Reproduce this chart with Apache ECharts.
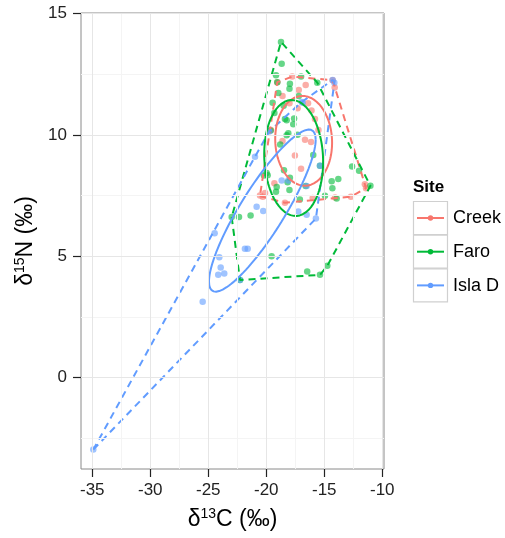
<!DOCTYPE html>
<html><head><meta charset="utf-8">
<script src="https://cdn.jsdelivr.net/npm/echarts@6/dist/echarts.min.js"></script>
<style>html,body{margin:0;padding:0;background:#fff}#c{width:505px;height:538px}</style>
</head><body><div id="c"></div>
<script>
const sites = ['Creek', 'Faro', 'Isla D'];
const colors = ['#F8766D', '#00BA38', '#619CFF'];
const creek = [[-19.05,12.17],[-17.76,12.4],[-14.28,12.25],[-14.1,11.95],[-18.6,11.6],[-16.4,11.3],[-16.1,11.0],[-15.8,10.65],[-17.3,11.1],[-19.6,10.2],[-18.6,9.75],[-16.66,9.8],[-16.14,9.7],[-17.53,9.15],[-20.54,7.5],[-20.3,7.45],[-20.1,7.6],[-18.39,7.2],[-16.0,7.4],[-14.07,7.42],[-12.7,7.45],[-11.5,7.96],[-11.4,7.8],[-15.5,10.2],[-18.0,11.3],[-19.3,8.0],[-17.0,8.6],[-17.2,11.85],[-16.6,12.05]];
const faro = [[-18.73,13.83],[-18.67,12.93],[-19.16,12.46],[-19.05,12.17],[-17.96,12.1],[-15.6,12.15],[-18.96,11.72],[-19.45,11.32],[-17.6,10.67],[-18.39,10.65],[-18.24,10.6],[-17.67,10.44],[-18.1,10.07],[-19.62,10.18],[-18.24,9.98],[-15.95,9.17],[-18.47,8.54],[-17.96,8.23],[-18.16,8.05],[-19.97,8.43],[-20.2,8.32],[-19.88,8.33],[-19.1,7.85],[-19.16,7.65],[-18.0,7.73],[-16.6,7.89],[-17.1,7.33],[-15.37,8.73],[-14.36,8.09],[-13.79,8.18],[-14.3,7.8],[-14.94,7.49],[-13.93,7.38],[-12.6,8.7],[-12.0,8.52],[-11.02,7.9],[-22.98,6.61],[-22.35,6.61],[-21.35,6.68],[-19.54,5.0],[-16.47,4.37],[-15.37,4.23],[-14.74,4.6],[-22.27,4.02],[-17.2,11.6],[-18.5,11.2],[-17.0,12.4],[-19.3,10.9],[-18.8,9.6],[-17.3,10.0],[-18.0,11.9]];
const islaD = [[-34.91,-2.97],[-25.48,3.12],[-24.14,4.23],[-23.62,4.29],[-23.93,4.53],[-24.05,4.96],[-21.84,5.31],[-21.6,5.31],[-24.45,5.94],[-22.27,4.02],[-20.83,7.04],[-20.26,6.86],[-17.24,6.84],[-16.52,6.71],[-15.72,6.55],[-20.97,9.1],[-18.67,8.12],[-18.1,8.12],[-15.37,8.73],[-16.52,7.89],[-16.86,11.32],[-16.95,11.35],[-14.28,12.26],[-14.13,12.15],[-19.74,10.14]];
const xTicks = [-35, -30, -25, -20, -15, -10];
const yTicks = [0, 5, 10, 15];
const xMinor = [-32.5, -27.5, -22.5, -17.5, -12.5];
const yMinor = [-2.5, 2.5, 7.5, 12.5];
const xRange = [-35.97, -9.85];
const yRange = [-3.77, 15.02];

function hull(pts) {
  const p = pts.slice().sort((a,b)=>a[0]-b[0]||a[1]-b[1]);
  const cross=(o,a,b)=>(a[0]-o[0])*(b[1]-o[1])-(a[1]-o[1])*(b[0]-o[0]);
  const lo=[],up=[];
  for (const q of p){while(lo.length>=2&&cross(lo[lo.length-2],lo[lo.length-1],q)<=0)lo.pop();lo.push(q);}
  for (let i=p.length-1;i>=0;i--){const q=p[i];while(up.length>=2&&cross(up[up.length-2],up[up.length-1],q)<=0)up.pop();up.push(q);}
  up.pop();lo.pop();
  const h=lo.concat(up);h.push(h[0]);return h;
}
function ellipse(pts, k) {
  const n=pts.length;
  const mx=pts.reduce((s,p)=>s+p[0],0)/n, my=pts.reduce((s,p)=>s+p[1],0)/n;
  let sxx=0,syy=0,sxy=0;
  for(const p of pts){sxx+=(p[0]-mx)**2;syy+=(p[1]-my)**2;sxy+=(p[0]-mx)*(p[1]-my);}
  sxx/=(n-1);syy/=(n-1);sxy/=(n-1);
  const l11=Math.sqrt(sxx), l21=sxy/l11, l22=Math.sqrt(syy-l21*l21);
  const out=[];
  for(let i=0;i<=120;i++){const t=2*Math.PI*i/120;const c=Math.cos(t)*k,s=Math.sin(t)*k;out.push([mx+l11*c,my+l21*c+l22*s]);}
  return out;
}
const groups=[creek,faro,islaD];
const series=[];
const gridMarks = [].concat(
  xMinor.map(v=>({xAxis:v,lineStyle:{color:'#f4f4f4'}})),
  yMinor.map(v=>({yAxis:v,lineStyle:{color:'#f4f4f4'}})),
  xTicks.map(v=>({xAxis:v,lineStyle:{color:'#e6e6e6'}})),
  yTicks.map(v=>({yAxis:v,lineStyle:{color:'#e6e6e6'}}))
);
series.push({type:'line',data:[],z:0,silent:true,markLine:{silent:true,symbol:'none',animation:false,label:{show:false},lineStyle:{type:'solid',width:1},data:gridMarks}});
groups.forEach((g,i)=>{
  series.push({name:sites[i],type:'scatter',data:g,symbolSize:6.5,itemStyle:{color:colors[i],opacity:0.6},z:2});
});
groups.forEach((g,i)=>{
  series.push({name:sites[i],type:'line',data:hull(g),showSymbol:false,symbol:'none',lineStyle:{color:colors[i],width:2,type:[7,5]},z:3,silent:true});
});
groups.forEach((g,i)=>{
  series.push({name:sites[i],type:'line',data:ellipse(g,1),showSymbol:false,symbol:'none',smooth:false,lineStyle:{color:colors[i],width:2},z:4,silent:true});
});
const font='"Liberation Sans", Arial, sans-serif';
const graphics=[{type:'text',x:413,y:187,style:{text:'Site',font:'bold 17px '+font,fill:'#000',textVerticalAlign:'middle'}}];
sites.forEach((s,i)=>{
  const y0=201+i*33.7;
  graphics.push({type:'rect',shape:{x:413.5,y:y0+0.5,width:34,height:33},style:{fill:'#fff',stroke:'#d0d0d0',lineWidth:1.2}});
  graphics.push({type:'line',shape:{x1:417,y1:y0+17,x2:444,y2:y0+17},style:{stroke:colors[i],lineWidth:2}});
  graphics.push({type:'circle',shape:{cx:430.5,cy:y0+17,r:2.7},style:{fill:colors[i]}});
  graphics.push({type:'text',x:453,y:y0+17.5,style:{text:s,font:'18px '+font,fill:'#000',textVerticalAlign:'middle'}});
});
const rich={a:{fontSize:23,fontFamily:font,color:'#000'},s:{fontSize:14,fontFamily:font,color:'#000',verticalAlign:'top',padding:[0,0,11,0]}};
const chart=echarts.init(document.getElementById('c'),null,{renderer:'canvas'});
chart.setOption({
  animation:false,
  backgroundColor:'#fff',
  grid:{left:81,right:121,top:13,bottom:69,show:true,borderColor:'#8a8a8a',borderWidth:1,backgroundColor:'#fff'},
  xAxis:{type:'value',min:xRange[0],max:xRange[1],
    axisLine:{show:false,onZero:false},splitLine:{show:false},
    axisTick:{show:true,inside:false,customValues:xTicks,length:8,lineStyle:{color:'#222',width:1.2}},
    axisLabel:{customValues:xTicks,margin:13,color:'#222',fontSize:17,fontFamily:font},
    name:'{a|δ}{s|13}{a|C (‰)}',nameLocation:'middle',nameGap:38,
    nameTextStyle:{rich:rich}},
  yAxis:{type:'value',min:yRange[0],max:yRange[1],
    axisLine:{show:false,onZero:false},splitLine:{show:false},
    axisTick:{show:true,inside:false,customValues:yTicks,length:8,lineStyle:{color:'#222',width:1.2}},
    axisLabel:{customValues:yTicks,margin:14,color:'#222',fontSize:17,fontFamily:font},
    name:'{a|δ}{s|15}{a|N (‰)}',nameLocation:'middle',nameGap:33,nameRotate:90,
    nameTextStyle:{rich:rich}},
  series:series,
  graphic:graphics
});
</script></body></html>
